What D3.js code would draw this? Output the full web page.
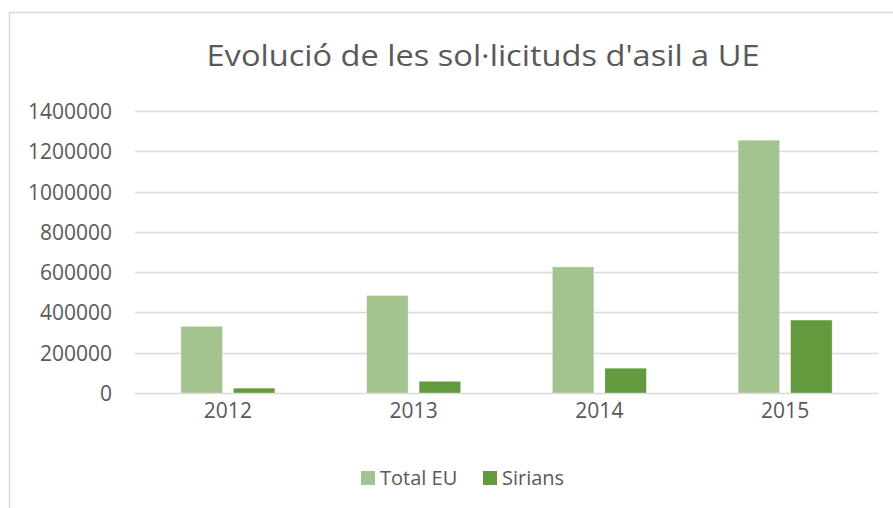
<!DOCTYPE html>
<html>
<head>
<meta charset="utf-8">
<script src="https://cdn.jsdelivr.net/npm/d3@7"></script>
<style>
  body { margin: 0; background: #fff; }
  text { font-family: "Open Sans", sans-serif; fill: #595959; }
</style>
</head>
<body>
<div id="chart"></div>
<script>
// Dades del gràfic
const years = ["2012", "2013", "2014", "2015"];
const totalEU = [331000, 484000, 626000, 1255000];
const sirians = [24000, 58000, 123000, 362000];
const seriesNames = ["Total EU", "Sirians"];
const seriesColors = ["#a3c48f", "#629a3d"];
const yTicks = [0, 200000, 400000, 600000, 800000, 1000000, 1200000, 1400000];

const width = 893, height = 508;
const svg = d3.select("#chart").append("svg")
    .attr("width", width)
    .attr("height", height);

// marc del gràfic
svg.append("rect")
    .attr("x", 9.5).attr("y", 12.5)
    .attr("width", 900).attr("height", 520)
    .attr("fill", "none")
    .attr("stroke", "#d9d9d9")
    .attr("stroke-width", 1.5);

// títol (ajustat a l'amplada de l'original)
const title = svg.append("text")
    .attr("x", 483).attr("y", 66)
    .attr("text-anchor", "middle")
    .style("font-size", "30px")
    .text("Evolució de les sol·licituds d'asil a UE");
title.attr("textLength", 553).attr("lengthAdjust", "spacingAndGlyphs");

// escales
const plotLeft = 135, plotRight = 878, plotTop = 111, plotBottom = 393;
const x = d3.scaleBand().domain(years).range([plotLeft, plotRight]).padding(0);
const y = d3.scaleLinear().domain([0, 1400000]).range([plotBottom, plotTop]);

// línies de graella
svg.append("g")
    .selectAll("line")
    .data(yTicks)
    .join("line")
    .attr("x1", plotLeft).attr("x2", plotRight)
    .attr("y1", d => Math.round(y(d)) + 0.5)
    .attr("y2", d => Math.round(y(d)) + 0.5)
    .attr("stroke", "#d9d9d9")
    .attr("stroke-width", 1.3);

// eix Y
const yAxis = svg.append("g")
    .attr("transform", `translate(${plotLeft - 23},0)`)
    .call(d3.axisLeft(y).tickValues(yTicks).tickFormat(d3.format("d")).tickSize(0).tickPadding(0));
yAxis.select(".domain").remove();
yAxis.selectAll("text")
    .attr("fill", "#595959")
    .style("font-family", "'Open Sans', sans-serif")
    .style("font-size", "21px")
    .attr("dy", "0.36em");

// eix X
const xAxis = svg.append("g")
    .attr("transform", `translate(0,${plotBottom})`)
    .call(d3.axisBottom(x).tickSize(0).tickPadding(10));
xAxis.select(".domain").remove();
xAxis.selectAll("text")
    .attr("fill", "#595959")
    .style("font-family", "'Open Sans', sans-serif")
    .style("font-size", "21px")
    .attr("dy", "0.71em");

// barres
const barW = 41.5, gap = 11;
const groupW = barW * 2 + gap;
const series = [totalEU, sirians];
series.forEach((vals, s) => {
    svg.append("g")
        .selectAll("rect")
        .data(vals)
        .join("rect")
        .attr("x", (d, i) => x(years[i]) + (x.bandwidth() - groupW) / 2 + s * (barW + gap))
        .attr("y", d => y(d))
        .attr("width", barW)
        .attr("height", d => y(0) - y(d))
        .attr("fill", seriesColors[s])
        .attr("stroke", "#fff")
        .attr("stroke-opacity", 0.4)
        .attr("stroke-width", 0.8);
});

// llegenda
const legendX = [361, 483];
seriesNames.forEach((name, i) => {
    svg.append("rect")
        .attr("x", legendX[i]).attr("y", 471)
        .attr("width", 14).attr("height", 14)
        .attr("fill", seriesColors[i]);
    svg.append("text")
        .attr("x", legendX[i] + 19).attr("y", 485)
        .style("font-size", "20px")
        .text(name);
});
</script>
</body>
</html>
